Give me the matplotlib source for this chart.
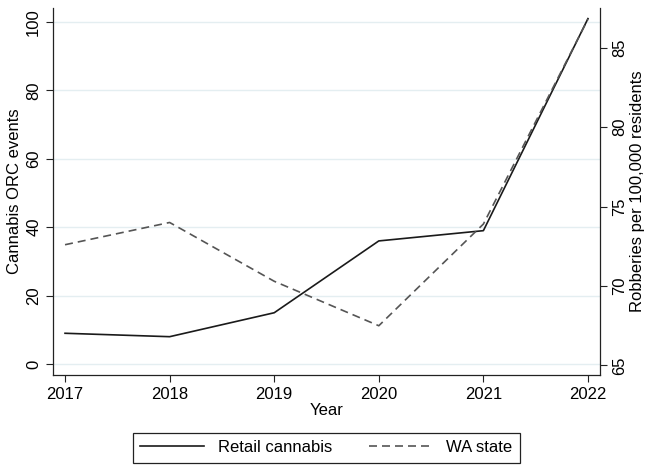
import matplotlib
matplotlib.use('Agg')
import matplotlib.pyplot as plt

plt.rcParams['font.family'] = ['Liberation Sans', 'DejaVu Sans']

years = [2017, 2018, 2019, 2020, 2021, 2022]
retail_cannabis = [9, 8, 15, 36, 39, 101]
wa_state = [72.6, 74.0, 70.3, 67.5, 73.9, 86.8]

fig = plt.figure(figsize=(6.48, 4.68), dpi=100)
ax = fig.add_axes([53/648, 1-375/468, (600-53)/648, (375-8)/468])
ax2 = ax.twinx()

grid_col = '#e4eef1'
ax.set_yticks([0, 20, 40, 60, 80, 100])
ax.grid(axis='y', color=grid_col, linewidth=1)
ax.set_axisbelow(True)

l1, = ax.plot(years, retail_cannabis, color='#1a1a1a', lw=1.2, label='Retail cannabis')
l2, = ax2.plot(years, wa_state, color='#555555', lw=1.2, ls=(0, (4.8, 3)), label='WA state')

ax.set_xlim(2016.885, 2022.115)
ax.set_ylim(-3.2, 104.1)
ax2.set_ylim(64.4, 87.5)
ax2.set_yticks([65, 70, 75, 80, 85])
ax.set_xticks(years)

for a in (ax, ax2):
    a.tick_params(labelsize=12, length=5, width=0.8, color='#222222')
    for s in a.spines.values():
        s.set_linewidth(0.9)
        s.set_color('#222222')
ax.spines['top'].set_visible(False)
ax.spines['right'].set_visible(False)
ax2.spines['top'].set_visible(False)
ax2.spines['left'].set_visible(False)
ax2.spines['bottom'].set_visible(False)

for t in ax.get_yticklabels():
    t.set_rotation(90)
    t.set_va('center')
for t in ax2.get_yticklabels():
    t.set_rotation(90)
    t.set_va('center')

ax.set_xlabel('Year', fontsize=12, labelpad=1)
ax.set_ylabel('Cannabis ORC events', fontsize=12, labelpad=3)
ax2.set_ylabel('Robberies per 100,000 residents', fontsize=12, labelpad=2)

leg = fig.legend([l1, l2], ['Retail cannabis', 'WA state'], loc='center',
                 bbox_to_anchor=(326.5/648, 1-447.5/468), ncol=2, fontsize=12,
                 fancybox=False, edgecolor='#222222', handlelength=3.8,
                 handletextpad=0.85, columnspacing=2.2, borderpad=0.45,
                 borderaxespad=0, framealpha=1)
leg.get_frame().set_linewidth(0.9)

fig.savefig('out.png', dpi=100, facecolor='white')
